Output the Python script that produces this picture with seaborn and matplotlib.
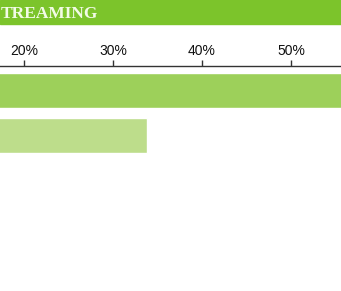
import matplotlib
matplotlib.use("Agg")
import matplotlib.pyplot as plt
from matplotlib.patches import Rectangle
import seaborn as sns

# data (percent)
categories = ["Series A", "Series B"]
values = [57.0, 33.8]
bar_colors = ["#9dd05a", "#bddd8b"]
tick_vals = [20, 30, 40, 50]
tick_labels = ["20%", "30%", "40%", "50%"]
header_text = "TREAMING"

sns.set_style("white")
plt.rcParams['font.family'] = ['Liberation Sans', 'DejaVu Sans']

fig = plt.figure(figsize=(3.41, 2.91), dpi=100)
ax = fig.add_axes([0, 0, 1, 225 / 291])

sns.barplot(x=values, y=categories, hue=categories, palette=bar_colors,
            legend=False, orient='h', width=0.79, saturation=1, ax=ax)

ax.set_xlim(17.30, 55.62)
ax.set_ylim(4.456, -0.544)
ax.xaxis.tick_top()
ax.set_xticks(tick_vals)
ax.set_xticklabels(tick_labels)
ax.tick_params(axis='x', direction='out', length=4, width=1, color='#333333',
               pad=2, labelsize=10, labelcolor='#111111')
ax.tick_params(axis='y', left=False, labelleft=False)
ax.set(xlabel=None, ylabel=None)
for s in ['left', 'right', 'bottom']:
    ax.spines[s].set_visible(False)
ax.spines['top'].set_color('#333333')
ax.spines['top'].set_linewidth(1)

# green header strip
fig.patches.append(Rectangle((0, 1 - 24 / 291), 1, 24 / 291,
                             transform=fig.transFigure, color='#7cc42b', zorder=0))
fig.text(0.5 / 341, 1 - 17.5 / 291, header_text, ha='left', va='baseline',
         color='#f2fbe6', fontsize=12.5, fontweight='bold',
         family=['Liberation Serif', 'DejaVu Serif'])

plt.savefig("out.png", dpi=100)
